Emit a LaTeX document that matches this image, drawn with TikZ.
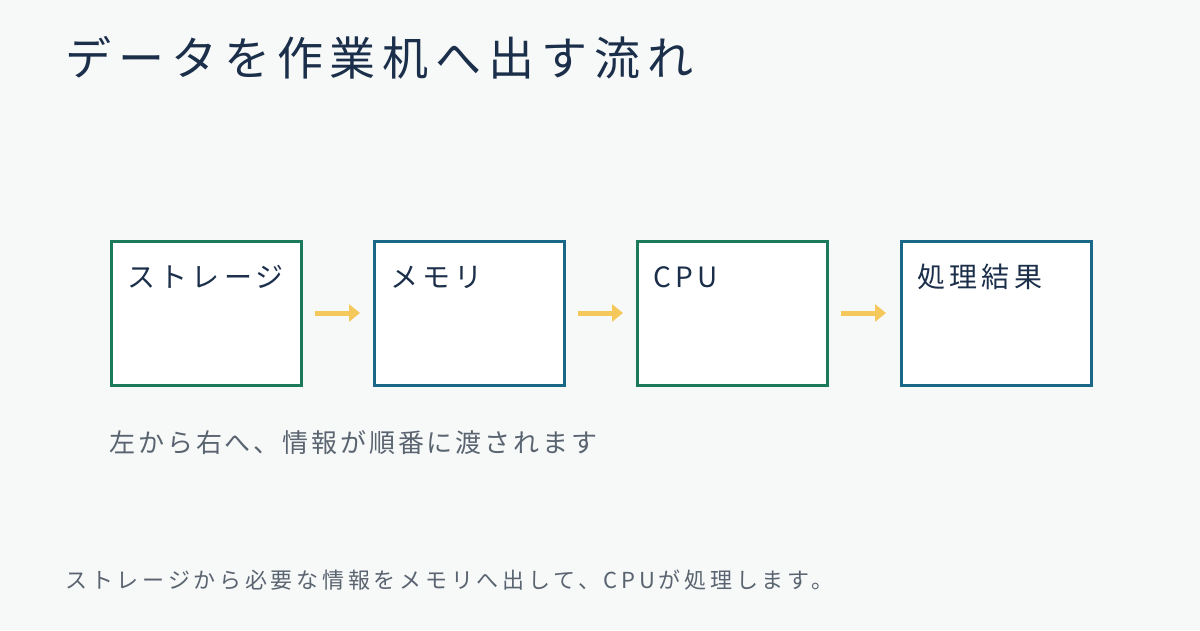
\documentclass[tikz,border=0pt]{standalone}
\usepackage{fontspec}
\setmainfont{Noto Sans CJK JP}
\newfontfamily\jpspa[LetterSpace=15]{Noto Sans CJK JP}
\newfontfamily\jpspb[LetterSpace=11]{Noto Sans CJK JP}
\newfontfamily\jpspc[LetterSpace=17]{Noto Sans CJK JP}
\usetikzlibrary{arrows.meta}
\definecolor{bg}{HTML}{F7F9F9}
\definecolor{gr}{HTML}{1C7A5C}
\definecolor{bl}{HTML}{1A6888}
\definecolor{yl}{HTML}{F5C85C}
\definecolor{nv}{HTML}{1B2F4A}
\definecolor{gy}{HTML}{5A6470}
\begin{document}
\begin{tikzpicture}[x=1pt,y=-1pt,
  box/.style={draw=#1,line width=3pt,fill=white,minimum width=190pt,minimum height=144pt,anchor=north west,inner sep=0pt},
  lab/.style={anchor=west,font=\jpspa\fontsize{28}{30}\selectfont,text=nv},
  arr/.style={yl,line width=5pt,-{Triangle[length=11pt,width=17pt]}}]
\useasboundingbox[fill=bg] (0,0) rectangle (1200,630);
\node[anchor=west,font=\jpspa\fontsize{46}{50}\selectfont,text=nv] (title) at (62,58) {データを作業机へ出す流れ};
\node[box=gr] (b1) at (110,240) {};
\node[box=bl] (b2) at (373,240) {};
\node[box=gr] (b3) at (636,240) {};
\node[box=bl] (b4) at (900,240) {};
\node[lab] (l1) at (124,277) {ストレージ};
\node[lab] (l2) at (387,277) {メモリ};
\node[lab] (l3) at (650,277) {CPU};
\node[lab] (l4) at (914,277) {処理結果};
\coordinate (a1s) at (315,313); \coordinate (a1e) at (360,313);
\coordinate (a2s) at (578,313); \coordinate (a2e) at (623,313);
\coordinate (a3s) at (841,313); \coordinate (a3e) at (886,313);
\draw[arr] (a1s) -- (a1e);
\draw[arr] (a2s) -- (a2e);
\draw[arr] (a3s) -- (a3e);
\node[anchor=west,font=\jpspb\fontsize{26}{28}\selectfont,text=gy] (sub) at (106,443) {左から右へ、情報が順番に渡されます};
\node[anchor=west,font=\jpspc\fontsize{22}{24}\selectfont,text=gy] (foot) at (62,580) {ストレージから必要な情報をメモリへ出して、CPUが処理します。};
\end{tikzpicture}
\end{document}
